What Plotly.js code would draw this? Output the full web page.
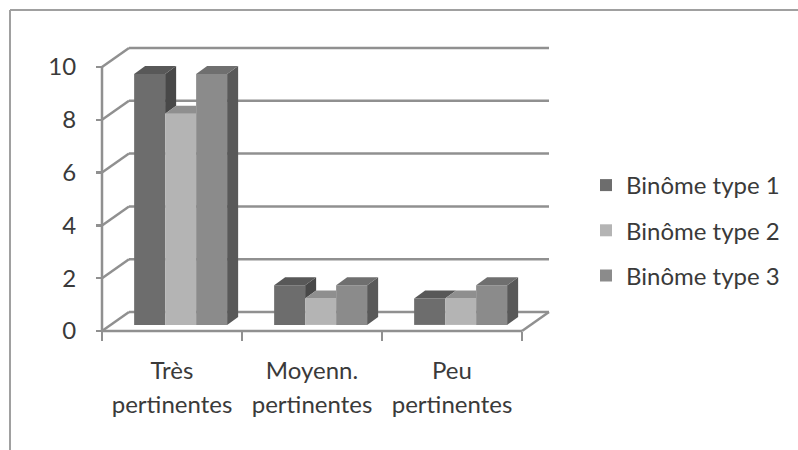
<!DOCTYPE html>
<html>
<head>
<meta charset="utf-8">
<script src="https://cdn.plot.ly/plotly-3.0.1.min.js"></script>
<style>html,body{margin:0;padding:0;background:#fff;}#chart{width:798px;height:450px;}</style>
</head>
<body>
<div id="chart"></div>
<script>
// ---- data ----
const categories = ['Très pertinentes', 'Moyenn. pertinentes', 'Peu pertinentes'];
const catLine1 = ['Très', 'Moyenn.', 'Peu'];
const catLine2 = ['pertinentes', 'pertinentes', 'pertinentes'];
const seriesNames = ['Binôme type 1', 'Binôme type 2', 'Binôme type 3'];
const type1 = [9.5, 1.5, 1.0];
const type2 = [8.0, 1.0, 1.0];
const type3 = [9.5, 1.5, 1.5];
const yTickVals = [0, 2, 4, 6, 8, 10];
const yTickText = ['0', '2', '4', '6', '8', '10'];

// ---- styles / geometry ----
const seriesValues = [type1, type2, type3];
const frontColors = ['#6d6d6d', '#b4b4b4', '#8b8b8b'];
const topColors   = ['#585858', '#8f8f8f', '#6f6f6f'];
const sideColors  = ['#484848', '#8a8a8a', '#595959'];
const W = 798, H = 450;
const CAT_PX = 140, CAT0_PX = 172;      // px per category, px of first category centre
const V_PX = 26.4, V0_PX = 331;          // px per unit, px of value 0 (front plane)
const pxU = d => d / CAT_PX;
const pxV = d => d / V_PX;
const xRange = [-CAT0_PX / CAT_PX, (W - CAT0_PX) / CAT_PX];
const yRange = [(V0_PX - H) / V_PX, V0_PX / V_PX];
const FX = pxU(27), FY = pxV(19);        // floor depth offsets
const BW = pxU(31);                       // bar width
const F0 = 0.32;                          // bar front depth fraction
const DX = pxU(11), DY = pxV(8);          // bar depth offsets
const BASE = F0 * FY;
const lineColor = '#909090';
const nCat = categories.length;
const xLeft = -0.5, xRight = nCat - 0.5;

const traces = [];
// front faces as bars
seriesValues.forEach((vals, s) => {
  traces.push({
    type: 'bar', name: seriesNames[s], legendgroup: 'g' + s,
    x: vals.map((v, i) => i + F0 * FX + (s - 1) * BW),
    y: vals, base: vals.map(() => BASE), width: BW,
    marker: {color: frontColors[s], line: {width: 0}},
    hoverinfo: 'skip'
  });
});
// side and top faces (painter's order)
for (let i = 0; i < nCat; i++) {
  for (let s = 0; s < seriesValues.length; s++) {
    const h = BASE + seriesValues[s][i];
    const xl = i + F0 * FX + (s - 1.5) * BW;
    const xr = xl + BW;
    const hasNext = s + 1 < seriesValues.length;
    const hn = hasNext ? BASE + seriesValues[s + 1][i] : BASE;
    if (hn < h) {
      traces.push({type: 'scatter', mode: 'lines', fill: 'toself', fillcolor: sideColors[s],
        line: {width: 0}, hoverinfo: 'skip', showlegend: false,
        x: [xr, xr, xr + DX, xr + DX, xr], y: [hn, h, h + DY, hn + DY, hn]});
    }
    let tx, ty;
    if (hasNext && hn > h) {
      tx = [xl, xr, xr, xl + DX, xl]; ty = [h, h, h + DY, h + DY, h];
    } else {
      tx = [xl, xr, xr + DX, xl + DX, xl]; ty = [h, h, h + DY, h + DY, h];
    }
    traces.push({type: 'scatter', mode: 'lines', fill: 'toself', fillcolor: topColors[s],
      line: {width: 0}, hoverinfo: 'skip', showlegend: false, x: tx, y: ty});
  }
}

// frame lines (walls) from tick values
const shapes = [];
const ln = (x0, y0, x1, y1) => ({type: 'line', xref: 'x', yref: 'y', x0, y0, x1, y1, layer: 'below',
  line: {color: lineColor, width: 2.5}});
yTickVals.forEach(t => {
  shapes.push(ln(xLeft, t, xLeft + FX, t + FY));
  shapes.push(ln(xLeft + FX, t + FY, xRight + FX, t + FY));
});
shapes.push(ln(xLeft, 0, xLeft, yTickVals[yTickVals.length - 1]));
shapes.push(ln(xLeft, 0, xRight, 0));
shapes.push(ln(xRight, 0, xRight + FX, FY));
// chart border (top and left edges)
shapes.push({type: 'line', xref: 'paper', yref: 'paper', x0: 10 / W, y0: 1 - 10 / H, x1: 1.01, y1: 1 - 10 / H,
  line: {color: '#a0a0a0', width: 2}});
shapes.push({type: 'line', xref: 'paper', yref: 'paper', x0: 10 / W, y0: 1 - 10 / H, x1: 10 / W, y1: -0.01,
  line: {color: '#a0a0a0', width: 2}});

const font = {family: 'Lato, sans-serif', size: 24, color: '#3a3a3a'};
const axisPosX = (xLeft - xRange[0]) / (xRange[1] - xRange[0]);
const axisPosY = (0 - yRange[0]) / (yRange[1] - yRange[0]);
const idx = categories.map((c, i) => i);

const layout = {
  width: W, height: H, margin: {l: 0, r: 0, t: 0, b: 0},
  paper_bgcolor: '#fff', plot_bgcolor: '#fff', font: font,
  barmode: 'overlay', showlegend: true,
  xaxis: {range: xRange, fixedrange: true, anchor: 'free', position: axisPosY,
    showgrid: false, zeroline: false, showline: false,
    tickmode: 'array', tickvals: idx, ticktext: catLine1, ticks: '',
    ticklabelstandoff: 23, tickfont: font,
    minor: {tickmode: 'array', tickvals: [xLeft].concat(idx.map(i => i + 0.5)), ticks: 'outside',
      ticklen: 9, tickwidth: 2.5, tickcolor: lineColor, showgrid: false}},
  xaxis2: {range: xRange, fixedrange: true, overlaying: 'x', anchor: 'free', position: axisPosY,
    side: 'bottom', showgrid: false, zeroline: false, showline: false,
    tickmode: 'array', tickvals: idx, ticktext: catLine2, ticks: '',
    ticklabelstandoff: 57, tickfont: font},
  yaxis: {range: yRange, fixedrange: true, anchor: 'free', position: axisPosX,
    showgrid: false, zeroline: false, showline: false,
    tickmode: 'array', tickvals: yTickVals, ticktext: yTickText,
    ticks: 'outside', ticklen: 6, tickwidth: 2.5, tickcolor: lineColor,
    ticklabelstandoff: 15, tickfont: font},
  legend: {x: 586 / W, xanchor: 'left', y: 1 - 163 / H, yanchor: 'top',
    traceorder: 'grouped', tracegroupgap: 11, font: font, bgcolor: 'rgba(0,0,0,0)', itemwidth: 30},
  shapes: shapes
};
// invisible helper so the second label axis is drawn
traces.push({type: 'scatter', x: [0], y: [0], xaxis: 'x2', mode: 'markers', marker: {opacity: 0},
  hoverinfo: 'skip', showlegend: false});

Plotly.newPlot('chart', traces, layout, {displayModeBar: false, staticPlot: true});
</script>
</body>
</html>
